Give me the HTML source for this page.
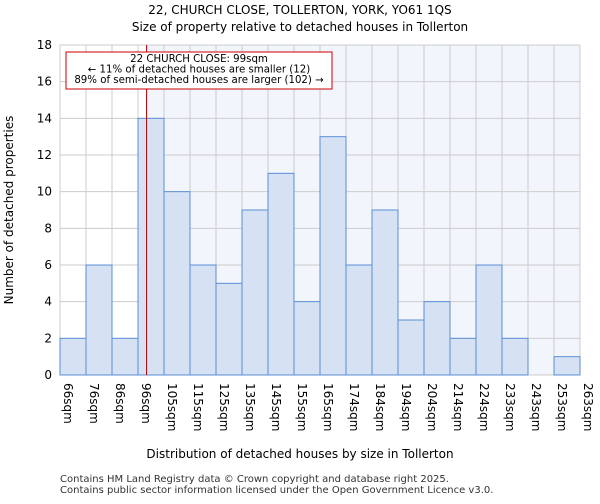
<!DOCTYPE html>
<html><head><meta charset="utf-8"><style>
body{margin:0;background:#fff;font-family:"DejaVu Sans","Liberation Sans",sans-serif}
</style></head><body>
<svg id="c" width="600" height="500" xmlns="http://www.w3.org/2000/svg" font-family="DejaVu Sans, Liberation Sans, sans-serif">
<text x="300" y="14" text-anchor="middle" font-size="12">22, CHURCH CLOSE, TOLLERTON, YORK, YO61 1QS</text>
<text x="300" y="31" text-anchor="middle" font-size="12">Size of property relative to detached houses in Tollerton</text>
<g id="plot"></g>
<text x="300" y="458" text-anchor="middle" font-size="12">Distribution of detached houses by size in Tollerton</text>
<text transform="translate(13,210) rotate(-90)" text-anchor="middle" font-size="12">Number of detached properties</text>
<text x="60" y="482" font-size="10" fill="#333">Contains HM Land Registry data © Crown copyright and database right 2025.</text>
<text x="60" y="493" font-size="10" fill="#333">Contains public sector information licensed under the Open Government Licence v3.0.</text>
</svg>
<script>
const binLabels=["66sqm","76sqm","86sqm","96sqm","105sqm","115sqm","125sqm","135sqm","145sqm","155sqm","165sqm","174sqm","184sqm","194sqm","204sqm","214sqm","224sqm","233sqm","243sqm","253sqm","263sqm"];
const counts=[2,6,2,14,10,6,5,9,11,4,13,6,9,3,4,2,6,2,0,1];
const yTicks=[0,2,4,6,8,10,12,14,16,18];
const markerBin=3.33;
const L=60,R=580,T=45,B=375,yMax=18;
const n=counts.length,bw=(R-L)/n;
const xs=i=>L+i*bw, ys=v=>B-v/yMax*(B-T);
const NS="http://www.w3.org/2000/svg",g=document.getElementById('plot');
function mk(t,a,p){const e=document.createElementNS(NS,t);for(const k in a)e.setAttribute(k,a[k]);(p||g).appendChild(e);return e;}
const mx=xs(markerBin);
const bg=mk('rect',{x:mx,y:T,width:R-mx,height:B-T,fill:'#f2f5fc'});


for(let i=0;i<=n;i++){const l=mk('line',{x1:xs(i),x2:xs(i),y1:T,y2:B,stroke:'#ccc','stroke-width':1});

}
yTicks.forEach(v=>{const l=mk('line',{x1:L,x2:R,y1:ys(v),y2:ys(v),stroke:'#ccc','stroke-width':1});


const t=mk('text',{x:L-8,y:ys(v)+4,'text-anchor':'end','font-size':12});t.textContent=v;

});
counts.forEach((c,i)=>{if(c<=0)return;const r=mk('rect',{x:xs(i),y:ys(c),width:bw,height:ys(0)-ys(c),fill:'#d6e1f3',stroke:'#5b8fd6','stroke-width':1});

});
binLabels.forEach((s,i)=>{const t=mk('text',{transform:`translate(${xs(i)+4},${B+8}) rotate(90)`,'font-size':12});t.textContent=s;

});
const ml=mk('line',{x1:mx,x2:mx,y1:T,y2:B,stroke:'#a00','stroke-width':1});


const box=mk('rect',{x:66,y:52,width:266,height:37,fill:'#fff',stroke:'#c00','stroke-width':1});


["22 CHURCH CLOSE: 99sqm","← 11% of detached houses are smaller (12)","89% of semi-detached houses are larger (102) →"].forEach((s,i)=>{const t=mk('text',{x:199,y:62+i*10.5,'text-anchor':'middle','font-size':10.2});t.textContent=s;

});
</script>
</body></html>
